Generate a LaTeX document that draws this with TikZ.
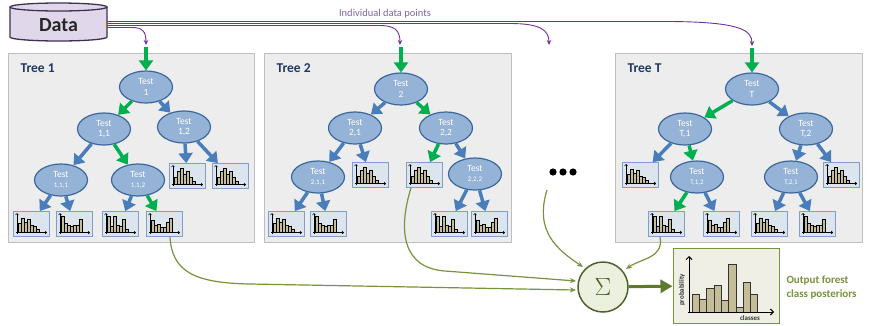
\documentclass[tikz,border=0pt]{standalone}
\usepackage{fontspec}
\setmainfont{Carlito}
\usetikzlibrary{arrows.meta,shapes.geometric,calc}

\definecolor{panelfill}{HTML}{EDEDED}
\definecolor{panelline}{HTML}{BFBFBF}
\definecolor{nodefill}{HTML}{95B3D7}
\definecolor{nodeline}{HTML}{3A679C}
\definecolor{bluearr}{HTML}{4A7EBB}
\definecolor{greenarr}{HTML}{00B050}
\definecolor{purp}{HTML}{7030A0}
\definecolor{purptext}{HTML}{8064A2}
\definecolor{leaffill}{HTML}{DCE4EE}
\definecolor{leafline}{HTML}{7F9FCB}
\definecolor{barfill}{HTML}{C4BD97}
\definecolor{olive}{HTML}{77933C}
\definecolor{darkolive}{HTML}{4F6228}
\definecolor{sumarrow}{HTML}{5E7A2E}
\definecolor{sigmafill}{HTML}{EBF1DE}
\definecolor{outfill}{HTML}{EFEFE6}
\definecolor{navy}{HTML}{1F3864}
\definecolor{datafill}{HTML}{E0D8EA}
\definecolor{dataline}{HTML}{3F3151}

\tikzset{
  panel/.style={rectangle, draw=panelline, fill=panelfill, line width=1pt, inner sep=0pt},
  test/.style={ellipse, draw=nodeline, fill=nodefill, line width=1.2pt,
    minimum width=53pt, minimum height=32pt, inner sep=0pt, text=white,
    font=\fontsize{9.5}{10.5}\selectfont, align=center},
  leaf/.style={rectangle, draw=leafline, fill=leaffill, line width=0.8pt,
    minimum width=36pt, minimum height=25pt, inner sep=0pt},
  barrow/.style={draw=bluearr, line width=3.5pt, -{Triangle[width=14pt,length=10pt]}},
  garrow/.style={draw=greenarr, line width=3.5pt, -{Triangle[width=14pt,length=10pt]}},
  feed/.style={draw=purp, line width=0.9pt, -{Stealth[length=5pt,width=4.5pt]}},
  vote/.style={draw=olive, line width=1.2pt, -{Stealth[length=6pt,width=5pt]}},
  bar/.style={fill=barfill, draw=black, line width=0.6pt},
  axis/.style={line width=0.6pt, -{Straight Barb[length=1.5pt,width=3pt]}},
  treetitle/.style={font=\fontsize{13.5}{14}\selectfont\bfseries, text=navy, anchor=west},
}

% bar-height patterns of the leaf histograms
\def\hA{0.55,0.85,0.6,0.75,0.45,0.35,0.2}
\def\hB{0.95,0.55,0.45,0.35,0.4,0.45,0.75}
\def\hC{0.95,0.35,0.95,0.45,0.35,0.75,0.2}
\def\hD{0.7,0.4,0.5,0.3,0.3,0.6,0.85}
\def\hE{0.45,0.75,0.95,0.6,0.8,0.45,0.2}

% leaf box with a small class histogram: name, x, y, heights
\newcommand\histleaf[4]{%
  \node[leaf] (#1) at (#2,#3) {};
  \foreach \h [count=\i] in #4
    \filldraw[bar] ({#2-13+3.1*(\i-1)},{#3+8.5}) rectangle ++(3.1,{-17*\h});
  \draw[axis] ({#2-14},{#3+10}) -- ({#2-14},{#3-11});
  \draw[axis] ({#2-15},{#3+8.5}) -- ({#2+16},{#3+8.5});
}

\begin{document}
\begin{tikzpicture}[x=1pt,y=-1pt]
\useasboundingbox (0,0) rectangle (870,325);
\fill[white] (0,0) rectangle (870,325);

% ---- data store ----
\fill[datafill] (10,7) -- (10,37) arc[start angle=180,end angle=360,x radius=48.5pt,y radius=4pt]
  -- (107,7) arc[start angle=0,end angle=180,x radius=48.5pt,y radius=4pt] -- cycle;
\draw[dataline,line width=1.3pt] (10,7) -- (10,37) arc[start angle=180,end angle=360,x radius=48.5pt,y radius=4pt] -- (107,7);
\draw[dataline,line width=1.3pt,fill=datafill] (58.5,7) ellipse[x radius=48.5pt,y radius=4pt];
\node[font=\fontsize{20}{22}\selectfont\bfseries, text=black!85] (data) at (58.5,25) {Data};

% ---- tree panels ----
\node[panel, minimum width=246pt, minimum height=189pt] (p1) at (131,147.5) {};
\node[panel, minimum width=247pt, minimum height=189pt] (p2) at (387.5,147.5) {};
\node[panel, minimum width=247pt, minimum height=189pt] (pT) at (738.5,147.5) {};
\node[treetitle] (n1) at (17,68) {Tree 1};
\node[treetitle] (n2) at (273,68) {Tree 2};
\node[treetitle] (nT) at (624,68) {Tree T};

% ---- data points fed to each tree ----
\coordinate (in1) at (146,45);
\coordinate (in2) at (400,45);
\coordinate (inD) at (549,45);
\coordinate (inT) at (752,46);
\draw[feed] (107,27.5) -- (132,27.5) .. controls (142,27.5) and (146,31) .. (in1);
\draw[feed] (107,25.5) -- (380,25.5) .. controls (394,25.5) and (400,30) .. (in2);
\draw[feed] (107,23.5) -- (510,23.5) .. controls (540,23.5) and (549,30) .. (inD);
\draw[feed] (107,21.5) -- (670,21.5) .. controls (740,22) and (752,30) .. (inT);
\node[text=purptext, font=\fontsize{10.5}{12}\selectfont] (idp) at (385,14) {Individual data points};

% ---- tree 1 ----
\node[test] (t1) at (146,87) {Test\\1};
\node[test] (t11) at (104,129) {Test\\1,1};
\node[test] (t12) at (184,127) {Test\\1,2};
\node[test] (t111) at (61,180) {Test\\{\fontsize{7}{8}\selectfont 1,1,1}};
\node[test] (t112) at (138,180) {Test\\{\fontsize{7}{8}\selectfont 1,1,2}};
\histleaf{l121}{187}{176}{\hE}
\histleaf{l122}{230}{176}{\hE}
\histleaf{l1111}{31}{224}{\hA}
\histleaf{l1112}{74}{224}{\hB}
\histleaf{l1121}{120}{224}{\hC}
\histleaf{l1122}{164}{224}{\hD}
\coordinate (g1) at (146,47);
\draw[garrow] (g1) -- (t1);
\draw[garrow] (t1) -- (t11);
\draw[barrow] (t1) -- (t12);
\draw[barrow] (t11) -- (t111);
\draw[garrow] (t11) -- (t112);
\draw[barrow] (t12) -- (l121);
\draw[barrow] (t12) -- (l122);
\draw[barrow] (t111) -- (l1111);
\draw[barrow] (t111) -- (l1112);
\draw[barrow] (t112) -- (l1121);
\draw[garrow] (t112) -- (l1122);

% ---- tree 2 ----
\node[test] (t2) at (401,89) {Test\\2};
\node[test] (t21) at (355,128) {Test\\2,1};
\node[test] (t22) at (446,128) {Test\\2,2};
\node[test] (t211) at (318,177) {Test\\{\fontsize{7}{8}\selectfont 2,1,1}};
\node[test] (t222) at (475,174) {Test\\{\fontsize{7}{8}\selectfont 2,2,2}};
\histleaf{l21}{370}{175}{\hE}
\histleaf{l221}{424}{175}{\hE}
\histleaf{l2111}{286}{224}{\hA}
\histleaf{l2112}{328}{224}{\hB}
\histleaf{l2221}{449}{224}{\hC}
\histleaf{l2222}{489}{224}{\hD}
\coordinate (g2) at (401,47);
\draw[garrow] (g2) -- (t2);
\draw[barrow] (t2) -- (t21);
\draw[garrow] (t2) -- (t22);
\draw[barrow] (t21) -- (t211);
\draw[barrow] (t21) -- (l21);
\draw[garrow] (t22) -- (l221);
\draw[barrow] (t22) -- (t222);
\draw[barrow] (t211) -- (l2111);
\draw[barrow] (t211) -- (l2112);
\draw[barrow] (t222) -- (l2221);
\draw[barrow] (t222) -- (l2222);

% ---- tree T ----
\node[test] (tT) at (752,89) {Test\\T};
\node[test] (tT1) at (685,129) {Test\\T,1};
\node[test] (tT2) at (806,129) {Test\\T,2};
\node[test] (tT12) at (697,177) {Test\\{\fontsize{7}{8}\selectfont T,1,2}};
\node[test] (tT21) at (791,177) {Test\\{\fontsize{7}{8}\selectfont T,2,1}};
\histleaf{lT1}{640}{175}{\hA}
\histleaf{lT2}{841}{175}{\hE}
\histleaf{lT121}{666}{224}{\hC}
\histleaf{lT122}{721}{224}{\hD}
\histleaf{lT211}{769}{224}{\hA}
\histleaf{lT212}{817}{224}{\hB}
\coordinate (gT) at (752,48);
\draw[garrow] (gT) -- (tT);
\draw[garrow] (tT) -- (tT1);
\draw[barrow] (tT) -- (tT2);
\draw[barrow] (tT1) -- (lT1);
\draw[garrow] (tT1) -- (tT12);
\draw[barrow] (tT2) -- (tT21);
\draw[barrow] (tT2) -- (lT2);
\draw[garrow] (tT12) -- (lT121);
\draw[barrow] (tT12) -- (lT122);
\draw[barrow] (tT21) -- (lT211);
\draw[barrow] (tT21) -- (lT212);

% ---- the trees in between ----
\node[minimum width=32pt, minimum height=10pt, inner sep=0pt] (dots) at (563,172) {};
\foreach \dx in {-10,0,10} \fill[black] (563+\dx,172) circle[radius=3.6pt];
\coordinate (dfoot) at (547,190);

% ---- averaging of the leaf posteriors ----
\node[circle, draw=darkolive, fill=sigmafill, line width=1.5pt, minimum size=50pt,
  inner sep=0pt, text=darkolive, font=\fontsize{26}{28}\selectfont] (sum) at (603,287) {$\Sigma$};

\draw[vote] ([xshift=6pt]l1122.south) .. controls (172,272) and (195,283) .. (250,284) -- (576,290);
\draw[vote] ([xshift=-13pt]l221.south) .. controls (398,230) and (402,268) .. (445,271) -- (576,281);
\draw[vote] (dfoot) .. controls (534,232) and (558,250) .. (583,267);
\draw[vote] ([xshift=-6pt]lT121.south) .. controls (664,258) and (642,258) .. (626,269);

% ---- forest output ----
\node[rectangle, draw=olive, fill=outfill, line width=1pt, minimum width=106pt,
  minimum height=75pt, inner sep=0pt] (out) at (726,285.5) {};
\draw[sumarrow, line width=3pt, -{Triangle[width=13pt,length=12pt]}] (sum) -- (out);
\foreach \h [count=\i] in {18,13,24,27,12,48,5,30,18}
  \filldraw[fill=barfill, draw=black!80, line width=0.6pt] ({692+7.3*(\i-1)},312) rectangle ++(7.3,-\h);
\draw[line width=1pt, -{Straight Barb[length=3pt,width=6pt]}] (689,313) -- (689,256);
\draw[line width=1pt, -{Straight Barb[length=3pt,width=6pt]}] (688,312) -- (774,312);
\node[rotate=90, font=\fontsize{7}{8}\selectfont\bfseries, text=black!80] (ylab) at (682,290) {probability};
\node[font=\fontsize{7}{8}\selectfont\bfseries, text=black!80] (xlab) at (750,318.5) {classes};
\node[anchor=west, text=olive, font=\fontsize{11}{14}\selectfont\bfseries, align=left] (otext) at (783,288) {Output forest\\class posteriors};
\end{tikzpicture}
\end{document}
